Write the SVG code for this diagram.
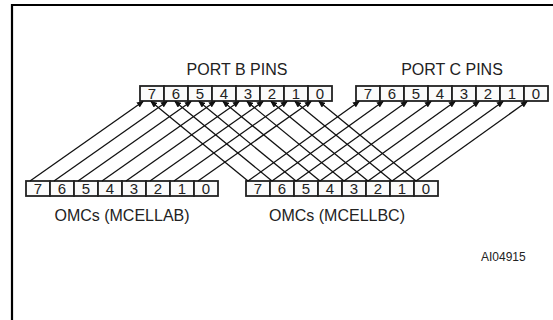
<svg xmlns="http://www.w3.org/2000/svg" width="553" height="320" viewBox="0 0 553 320">
<defs>
<marker id="ah" markerWidth="7" markerHeight="6" refX="6" refY="3" orient="auto" markerUnits="userSpaceOnUse">
<path d="M0,0 L7,3 L0,6 Z" fill="#111"/>
</marker>
<style>
.cell{fill:#fbfbfb;stroke:#222;stroke-width:1.8}
.dg{font-family:"Liberation Sans",Arial,sans-serif;font-size:15px;fill:#222;text-anchor:middle}
.lbl{font-family:"Liberation Sans",Arial,sans-serif;font-size:16px;fill:#222;text-anchor:middle}
.id{font-family:"Liberation Sans",Arial,sans-serif;font-size:12px;fill:#222}
.cn line{stroke:#111;stroke-width:1.3;marker-end:url(#ah)}
</style>
</defs>
<rect width="553" height="320" fill="#fff"/>
<path d="M12,320 V5 H553" fill="none" stroke="#000" stroke-width="2.2"/>

<g id="port-b">
<text class="lbl" x="237" y="75">PORT B PINS</text>
<rect class="cell" x="140" y="86" width="24" height="15"/>
<rect class="cell" x="164" y="86" width="24" height="15"/>
<rect class="cell" x="188" y="86" width="24" height="15"/>
<rect class="cell" x="212" y="86" width="24" height="15"/>
<rect class="cell" x="236" y="86" width="24" height="15"/>
<rect class="cell" x="260" y="86" width="24" height="15"/>
<rect class="cell" x="284" y="86" width="24" height="15"/>
<rect class="cell" x="308" y="86" width="24" height="15"/>
<text class="dg" x="152" y="99">7</text>
<text class="dg" x="176" y="99">6</text>
<text class="dg" x="200" y="99">5</text>
<text class="dg" x="224" y="99">4</text>
<text class="dg" x="248" y="99">3</text>
<text class="dg" x="272" y="99">2</text>
<text class="dg" x="296" y="99">1</text>
<text class="dg" x="320" y="99">0</text>
</g>

<g id="port-c">
<text class="lbl" x="452" y="75">PORT C PINS</text>
<rect class="cell" x="356" y="86" width="24" height="15"/>
<rect class="cell" x="380" y="86" width="24" height="15"/>
<rect class="cell" x="404" y="86" width="24" height="15"/>
<rect class="cell" x="428" y="86" width="24" height="15"/>
<rect class="cell" x="452" y="86" width="24" height="15"/>
<rect class="cell" x="476" y="86" width="24" height="15"/>
<rect class="cell" x="500" y="86" width="24" height="15"/>
<rect class="cell" x="524" y="86" width="24" height="15"/>
<text class="dg" x="368" y="99">7</text>
<text class="dg" x="392" y="99">6</text>
<text class="dg" x="416" y="99">5</text>
<text class="dg" x="440" y="99">4</text>
<text class="dg" x="464" y="99">3</text>
<text class="dg" x="488" y="99">2</text>
<text class="dg" x="512" y="99">1</text>
<text class="dg" x="536" y="99">0</text>
</g>

<g id="mcellab">
<rect class="cell" x="26" y="181" width="24" height="15"/>
<rect class="cell" x="50" y="181" width="24" height="15"/>
<rect class="cell" x="74" y="181" width="24" height="15"/>
<rect class="cell" x="98" y="181" width="24" height="15"/>
<rect class="cell" x="122" y="181" width="24" height="15"/>
<rect class="cell" x="146" y="181" width="24" height="15"/>
<rect class="cell" x="170" y="181" width="24" height="15"/>
<rect class="cell" x="194" y="181" width="24" height="15"/>
<text class="dg" x="38" y="194">7</text>
<text class="dg" x="62" y="194">6</text>
<text class="dg" x="86" y="194">5</text>
<text class="dg" x="110" y="194">4</text>
<text class="dg" x="134" y="194">3</text>
<text class="dg" x="158" y="194">2</text>
<text class="dg" x="182" y="194">1</text>
<text class="dg" x="206" y="194">0</text>
<text class="lbl" x="122" y="221">OMCs (MCELLAB)</text>
</g>

<g id="mcellbc">
<rect class="cell" x="246" y="181" width="24" height="15"/>
<rect class="cell" x="270" y="181" width="24" height="15"/>
<rect class="cell" x="294" y="181" width="24" height="15"/>
<rect class="cell" x="318" y="181" width="24" height="15"/>
<rect class="cell" x="342" y="181" width="24" height="15"/>
<rect class="cell" x="366" y="181" width="24" height="15"/>
<rect class="cell" x="390" y="181" width="24" height="15"/>
<rect class="cell" x="414" y="181" width="24" height="15"/>
<text class="dg" x="258" y="194">7</text>
<text class="dg" x="282" y="194">6</text>
<text class="dg" x="306" y="194">5</text>
<text class="dg" x="330" y="194">4</text>
<text class="dg" x="354" y="194">3</text>
<text class="dg" x="378" y="194">2</text>
<text class="dg" x="402" y="194">1</text>
<text class="dg" x="426" y="194">0</text>
<text class="lbl" x="337" y="221">OMCs (MCELLBC)</text>
</g>

<g id="ai-label"><text class="id" x="481" y="261">AI04915</text></g>

<g id="connectors" class="cn">
<line x1="30" y1="181" x2="143" y2="101.5"/>
<line x1="54" y1="181" x2="167" y2="101.5"/>
<line x1="78" y1="181" x2="191" y2="101.5"/>
<line x1="102" y1="181" x2="215" y2="101.5"/>
<line x1="126" y1="181" x2="239" y2="101.5"/>
<line x1="150" y1="181" x2="263" y2="101.5"/>
<line x1="174" y1="181" x2="287" y2="101.5"/>
<line x1="198" y1="181" x2="311" y2="101.5"/>

<line x1="248" y1="181" x2="151" y2="101.5"/>
<line x1="272" y1="181" x2="175" y2="101.5"/>
<line x1="296" y1="181" x2="199" y2="101.5"/>
<line x1="320" y1="181" x2="223" y2="101.5"/>
<line x1="344" y1="181" x2="247" y2="101.5"/>
<line x1="368" y1="181" x2="271" y2="101.5"/>
<line x1="392" y1="181" x2="295" y2="101.5"/>
<line x1="416" y1="181" x2="319" y2="101.5"/>

<line x1="248" y1="181" x2="359" y2="101.5"/>
<line x1="272" y1="181" x2="383" y2="101.5"/>
<line x1="296" y1="181" x2="407" y2="101.5"/>
<line x1="320" y1="181" x2="431" y2="101.5"/>
<line x1="344" y1="181" x2="455" y2="101.5"/>
<line x1="368" y1="181" x2="479" y2="101.5"/>
<line x1="392" y1="181" x2="503" y2="101.5"/>
<line x1="416" y1="181" x2="527" y2="101.5"/>
</g>
</svg>
